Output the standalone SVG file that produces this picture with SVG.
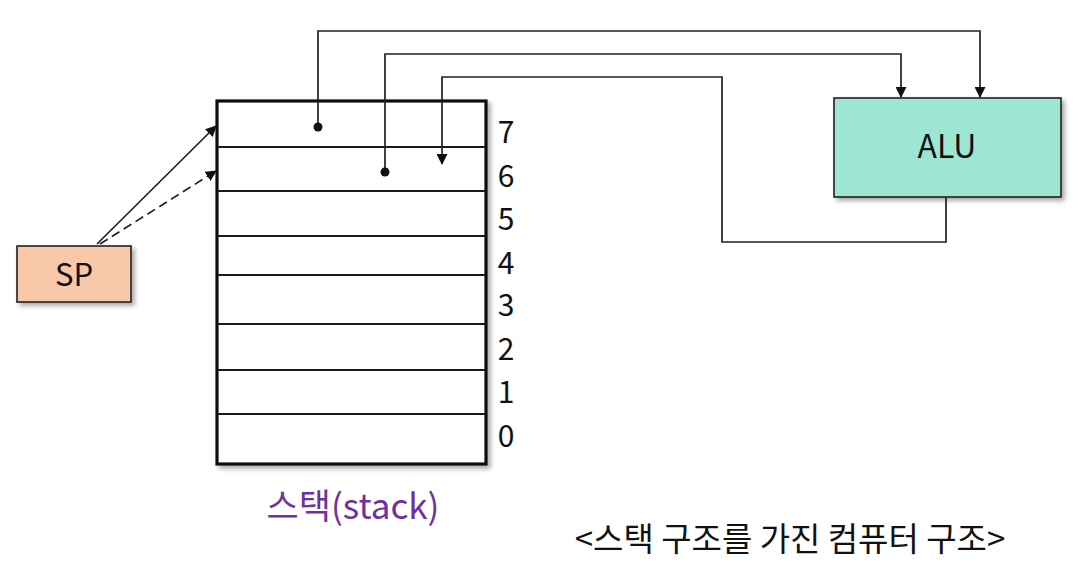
<svg xmlns="http://www.w3.org/2000/svg" width="1091" height="586" viewBox="0 0 1091 586">
<defs>
<style>
.lbl{font-family:"Noto Sans CJK KR","Noto Sans","Liberation Sans",sans-serif;fill:#111}
.conn{fill:none;stroke:#222;stroke-width:1.7}
.row{stroke:#1a1a1a;stroke-width:2.2}
</style>
<marker id="arr" markerWidth="11" markerHeight="11" refX="10" refY="5.5" orient="auto" markerUnits="userSpaceOnUse">
<path d="M0,0 L11,5.5 L0,11 Z" fill="#111"/>
</marker>
<filter id="sh" x="-10%" y="-10%" width="130%" height="130%">
<feGaussianBlur in="SourceAlpha" stdDeviation="2.5"/>
<feOffset dx="3" dy="3" result="b"/>
<feComponentTransfer><feFuncA type="linear" slope="0.35"/></feComponentTransfer>
<feMerge><feMergeNode/><feMergeNode in="SourceGraphic"/></feMerge>
</filter>
</defs>
<rect width="1091" height="586" fill="#ffffff"/>

<g id="stack">
<rect x="217" y="101" width="269" height="363" fill="#fff" stroke="#111" stroke-width="3.2" filter="url(#sh)"/>
<line class="row" x1="217" y1="147" x2="486" y2="147"/>
<line class="row" x1="217" y1="191" x2="486" y2="191"/>
<line class="row" x1="217" y1="236" x2="486" y2="236"/>
<line class="row" x1="217" y1="275" x2="486" y2="275"/>
<line class="row" x1="217" y1="324" x2="486" y2="324"/>
<line class="row" x1="217" y1="370" x2="486" y2="370"/>
<line class="row" x1="217" y1="414" x2="486" y2="414"/>
<g class="lbl" font-size="30" text-anchor="middle">
<text x="506" y="143">7</text>
<text x="506" y="187">6</text>
<text x="506" y="230">5</text>
<text x="506" y="274">4</text>
<text x="506" y="316">3</text>
<text x="506" y="360">2</text>
<text x="506" y="403">1</text>
<text x="506" y="447">0</text>
</g>
<text x="353" y="519" font-family="Noto Sans CJK KR,Noto Sans,sans-serif" font-size="35" text-anchor="middle" fill="#7030a0">스택(stack)</text>
</g>

<g id="sp">
<rect x="17" y="246" width="114" height="56" fill="#f8c8a8" stroke="#222" stroke-width="1.6" filter="url(#sh)"/>
<text class="lbl" x="74" y="286" font-size="31" text-anchor="middle">SP</text>
</g>

<g id="alu">
<rect x="834" y="98" width="227" height="99" fill="#9de6d3" stroke="#222" stroke-width="1.6" filter="url(#sh)"/>
<text class="lbl" x="947" y="158" font-size="32" text-anchor="middle">ALU</text>
</g>

<g id="connectors">
<path class="conn" d="M97,244 L216,126" marker-end="url(#arr)"/>
<path class="conn" d="M100,244 L216,171" stroke-dasharray="9,5" marker-end="url(#arr)"/>
<path class="conn" d="M318,127 V31 H980 V97" marker-end="url(#arr)"/>
<path class="conn" d="M385,172 V54 H901 V97" marker-end="url(#arr)"/>
<path class="conn" d="M946,197 V242 H722 V77 H442 V164" marker-end="url(#arr)"/>
<circle cx="318" cy="127" r="4.5" fill="#111"/>
<circle cx="385" cy="172" r="4.5" fill="#111"/>
</g>

<text class="lbl" x="790" y="551" font-size="33" text-anchor="middle">&lt;스택 구조를 가진 컴퓨터 구조&gt;</text>
</svg>
